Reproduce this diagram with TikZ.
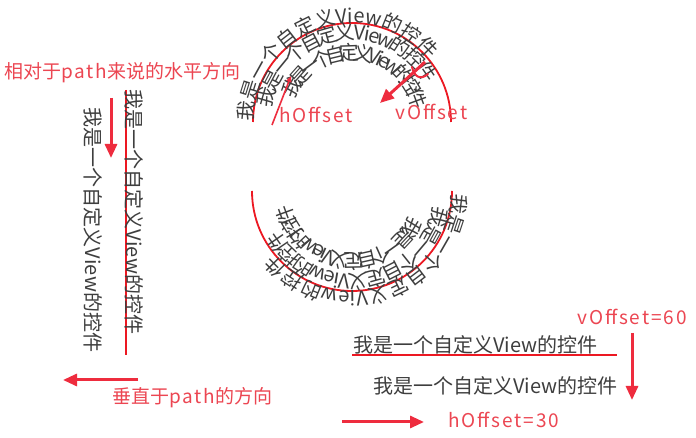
\documentclass[tikz,border=0pt]{standalone}
\usepackage{fontspec}
\setmainfont{Noto Sans CJK SC}
\newfontfamily\widelatin[LetterSpace=10]{Noto Sans CJK SC}
\usepackage{xcolor}
\usetikzlibrary{calc, decorations.text, arrows.meta}

\definecolor{pathred}{RGB}{236,24,34}
\definecolor{notered}{RGB}{236,70,82}
\definecolor{arrowred}{RGB}{238,44,62}
\definecolor{textgray}{RGB}{62,62,62}

\newcommand{\glyphfmt}{\fontsize{20}{22}\selectfont}
\newcommand{\lat}[1]{{\widelatin #1}}

\tikzset{
	pathline/.style={pathred, line width=1.8pt},
	fatarrow/.style={arrowred, line width=3pt, -{Triangle[length=14pt, width=12pt]}},
	thinarrow/.style={arrowred, line width=1.6pt, -{Triangle[length=6pt, width=5pt]}},
	note/.style={notered, font=\fontsize{19}{22}\selectfont, inner sep=0pt},
	plaintext/.style={textgray, font=\glyphfmt, inner sep=0pt},
}

\begin{document}
\begin{tikzpicture}[x=1pt, y=1pt]
		\useasboundingbox[fill=white] (0,0) rectangle (696,438);

		\def\rTop{99pt};
		\def\rBot{100pt};

		% path points
		\coordinate (vTop) at (126,348);
		\coordinate (vBot) at (126,83);
		\coordinate (upL) at (253,316);
		\coordinate (loR) at (452,247);
		\coordinate (hL) at (352,83);
		\coordinate (hR) at (617,83);

		% the red paths
		\begin{scope}[pathline]
			\draw (vTop) -- (vBot);
			\draw (upL) arc[start angle=180, end angle=0, radius=\rTop];
			\draw (loR) arc[start angle=0, end angle=-180, radius=\rBot];
			\draw (hL) -- (hR);
		\end{scope}

		% texts along the vertical path
		\begin{scope}[decoration={text along path, text color=textgray}]
			\path[decorate, decoration={text={|\glyphfmt|我是一个自定义View的控件}, raise=0pt}] (vTop) -- (vBot);
			\path[decorate, decoration={text={|\glyphfmt|我是一个自定义View的控件}, raise=-41pt, text align={left indent=18pt}}] (vTop) -- (vBot);
		\end{scope}

		% texts along the upper arc
		\begin{scope}[decoration={text along path, text color=textgray}]
			\path[decorate, decoration={text={|\glyphfmt|我是一个自定义View的控件}, raise=0pt}]
				(upL) arc[start angle=180, end angle=0, radius=\rTop];
			\path[decorate, decoration={text={|\glyphfmt|我是一个自定义View的控件}, raise=-17pt, text align={left indent=18pt}}]
				(upL) arc[start angle=180, end angle=0, radius=\rTop];
			\path[decorate, decoration={text={|\glyphfmt|我是一个自定义View的控件}, raise=-37pt, text align={left indent=42pt}}]
				(upL) arc[start angle=180, end angle=0, radius=\rTop];
		\end{scope}

		% texts along the lower arc
		\begin{scope}[decoration={text along path, text color=textgray}]
			\path[decorate, decoration={text={|\glyphfmt|我是一个自定义View的控件}, raise=0pt, text align={left indent=2pt}}]
				(loR) arc[start angle=0, end angle=-180, radius=\rBot];
			\path[decorate, decoration={text={|\glyphfmt|我是一个自定义View的控件}, raise=-17pt, text align={left indent=20pt}}]
				(loR) arc[start angle=0, end angle=-180, radius=\rBot];
			\path[decorate, decoration={text={|\glyphfmt|我是一个自定义View的控件}, raise=-37pt, text align={left indent=45pt}}]
				(loR) arc[start angle=0, end angle=-180, radius=\rBot];
		\end{scope}

		% texts on the straight path
		\node[plaintext, anchor=base west] (lineA) at (353,85) {我是一个自定义View的控件};
		\node[plaintext, anchor=base west] (lineB) at (373,44) {我是一个自定义View的控件};

		% labels
		\node[note, anchor=west] (horizNote) at (4,365) {相对于\lat{path}来说的水平方向};
		\node[note, anchor=west] (vertNote) at (112,40) {垂直于\lat{path}的方向};
		\node[note, anchor=west] (vOffNote) at (577,121) {\lat{vOffset=60}};
		\node[note, anchor=west] (hOffNote) at (448,18) {\lat{hOffset=30}};
		\node[note, anchor=west] (hOffArc) at (279,323) {\lat{hOffset}};
		\node[note, anchor=west] (vOffArc) at (395,326) {\lat{vOffset}};

		% arrow ends
		\coordinate (a1s) at (111,340);
		\coordinate (a1e) at (111,280);
		\coordinate (a2s) at (138,58);
		\coordinate (a2e) at (63,58);
		\coordinate (a3s) at (632,105);
		\coordinate (a3e) at (632,38);
		\coordinate (a4s) at (342,16);
		\coordinate (a4e) at (424,16);
		\coordinate (a5s) at (425,376);
		\coordinate (a5e) at (380,335);
		\coordinate (a6s) at (272,313);
		\coordinate (a6e) at (291,362);

		% arrows
		\begin{scope}[fatarrow]
			\draw (a1s) -- (a1e);
			\draw (a2s) -- (a2e);
			\draw (a3s) -- (a3e);
			\draw (a4s) -- (a4e);
			\draw (a5s) -- (a5e);
		\end{scope}
		\draw[thinarrow] (a6s) -- (a6e);
		\draw[arrowred, line width=2pt, line cap=round] (412,371) .. controls (414,362) and (420,357) .. (428,364);
	\end{tikzpicture}
\end{document}
